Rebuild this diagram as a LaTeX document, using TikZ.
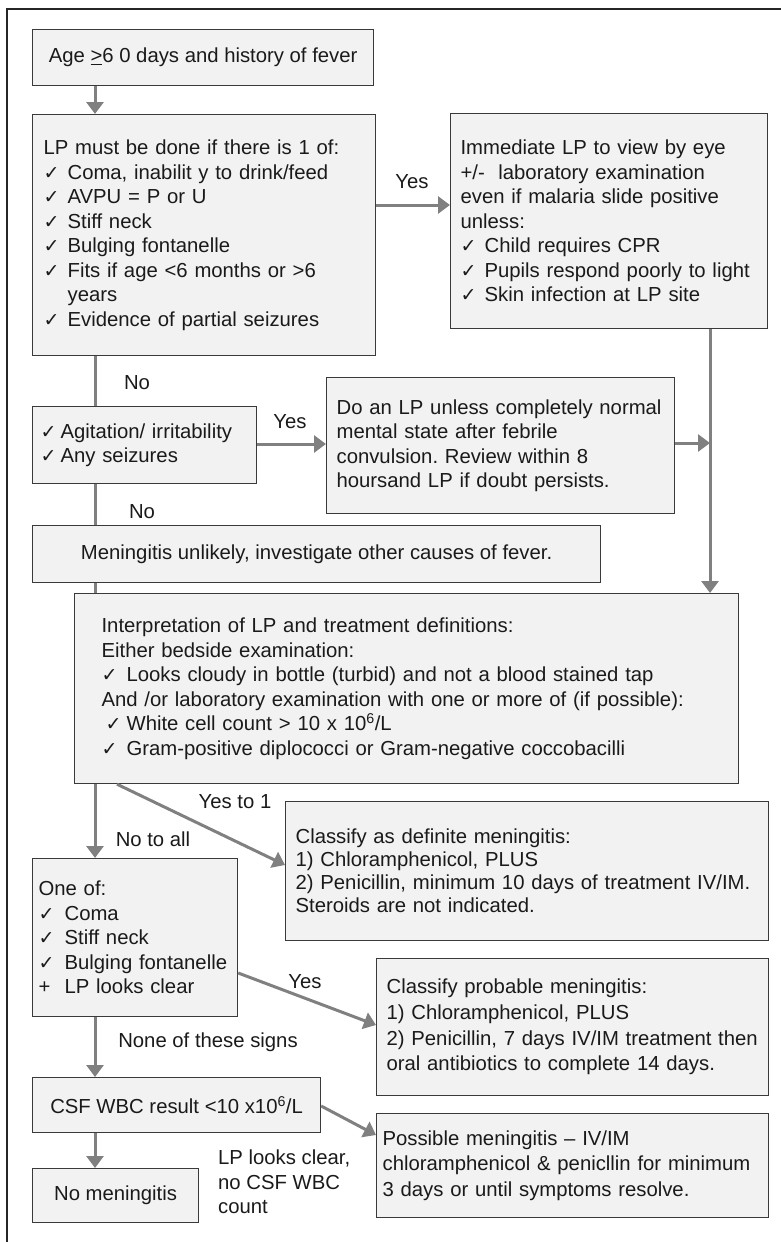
\documentclass[tikz,border=0pt]{standalone}
\usepackage{fontspec}
\setmainfont{Liberation Sans}
\newfontfamily\symfont{DejaVu Sans}
\usetikzlibrary{arrows.meta}

\definecolor{boxfill}{HTML}{F2F2F2}
\definecolor{boxline}{HTML}{3A3A3A}
\definecolor{wire}{HTML}{808080}
\definecolor{ink}{HTML}{1A1A1A}

\frenchspacing
\newcommand\bodyfont{\fontsize{20.3}{24.5}\selectfont}
% check mark followed by a fixed indent
\newcommand\ck[1][24pt]{\makebox[#1][l]{\fontsize{19}{19}\symfont ✓}}

\begin{document}
\begin{tikzpicture}[x=1pt,y=-1pt,
  box/.style={draw=boxline, fill=boxfill, line width=1.2pt, anchor=north west,
    inner ysep=0pt, align=left, font=\bodyfont, text=ink},
  cbox/.style={box, align=center},
  conn/.style={draw=wire, line width=3pt},
  arr/.style={conn, -{Triangle[length=12pt,width=17pt]}},
  lbl/.style={font=\bodyfont, text=ink, inner sep=0pt, align=left}]
\useasboundingbox (0,0) rectangle (781,1242);

% outer frame
\draw[black!85, line width=1.2pt] (781,9) -- (7,9) -- (7,1242);

% boxes
\node[cbox, minimum width=341, minimum height=56] (A) at (32,29)
  {Age \underline{>}6 0 days and history of fever};
\node[box, minimum width=343, minimum height=241, text width=321, inner xsep=11] (B) at (32,114)
  {LP must be done if there is 1 of:\\
   \ck Coma, inabilit y to drink/feed\\
   \ck AVPU = P or U\\
   \ck Stiff neck\\
   \ck Bulging fontanelle\\
   \ck Fits if age <6 months or >6\\
   \hspace*{24pt}years\\
   \ck Evidence of partial seizures};
\node[box, minimum width=317, minimum height=215, text width=297, inner xsep=10] (C) at (450,113)
  {Immediate LP to view by eye\\
   +/-\ \ laboratory examination\\
   even if malaria slide positive\\
   unless:\\
   \ck Child requires CPR\\
   \ck Pupils respond poorly to light\\
   \ck Skin infection at LP site};
\node[box, minimum width=224, minimum height=77, text width=208, inner xsep=8] (D) at (32,406)
  {\ck[20pt]Agitation/ irritability\\
   \ck[20pt]Any seizures};
\node[box, minimum width=348, minimum height=136, text width=328, inner xsep=10] (E) at (326,377)
  {Do an LP unless completely normal\\
   mental state after febrile\\
   convulsion. Review within 8\\
   hoursand LP if doubt persists.};
\node[cbox, minimum width=568, minimum height=57] (G) at (32,525)
  {Meningitis unlikely, investigate other causes of fever.};
\node[box, minimum width=664, minimum height=190, text width=610, inner xsep=27] (F) at (74,593)
  {Interpretation of LP and treatment definitions:\\
   Either bedside examination:\\
   \ck[25pt]Looks cloudy in bottle (turbid) and not a blood stained tap\\
   And /or laboratory examination with one or more of (if possible):\\
   \hspace*{4pt}\ck[21pt]White cell count > 10 x 10\textsuperscript{6}/L\\
   \ck[25pt]Gram-positive diplococci or Gram-negative coccobacilli};
\node[box, minimum width=483, minimum height=139, text width=463, inner xsep=10,
      font=\fontsize{20.3}{23}\selectfont] (I) at (285,801)
  {Classify as definite meningitis:\\
   1) Chloramphenicol, PLUS\\
   2) Penicillin, minimum 10 days of treatment IV/IM.\\
   Steroids are not indicated.};
\node[box, minimum width=205, minimum height=158, text width=193, inner xsep=6] (H) at (32,858)
  {One of:\\
   \ck[26pt]Coma\\
   \ck[26pt]Stiff neck\\
   \ck[26pt]Bulging fontanelle\\
   \makebox[26pt][l]{+}LP looks clear};
\node[box, minimum width=392, minimum height=137, text width=372, inner xsep=10,
      font=\fontsize{20.3}{25.7}\selectfont] (J) at (376,958)
  {Classify probable meningitis:\\
   1) Chloramphenicol, PLUS\\
   2) Penicillin, 7 days IV/IM treatment then\\
   oral antibiotics to complete 14 days.};
\node[cbox, minimum width=288, minimum height=55] (K) at (32,1077)
  {CSF WBC result <10 x10\textsuperscript{6}/L};
\node[box, minimum width=392, minimum height=104, text width=380, inner xsep=6,
      font=\fontsize{20.3}{25.5}\selectfont] (L) at (376,1113)
  {Possible meningitis – IV/IM\\
   chloramphenicol \& penicllin for minimum\\
   3 days or until symptoms resolve.};
\node[cbox, minimum width=166, minimum height=54] (M) at (32,1168)
  {No meningitis};

% reference points for the trunk lines
\coordinate (trunk) at (95,0);
\coordinate (merge) at (710,443);

% connectors
\draw[arr]  (A.south -| trunk) -- (B.north -| trunk);
\draw[arr]  (B.east |- 0,205) -- (C.west |- 0,205);
\draw[conn] (B.south -| trunk) -- (D.north -| trunk);
\draw[arr]  (D.east |- 0,444) -- (E.west |- 0,444);
\draw[conn] (D.south -| trunk) -- (G.north -| trunk);
\draw[conn] (G.south -| trunk) -- (F.north -| trunk);
\draw[arr]  (E.east |- merge) -- (merge);
\draw[arr]  (C.south -| merge) -- (F.north -| merge);
\draw[arr]  (F.south -| trunk) -- (H.north -| trunk);
\draw[arr]  (F.south -| 117,0) -- (I.west |- 0,865);
\draw[arr]  (H.east |- 0,973) -- (J.west |- 0,1025);
\draw[arr]  (H.south -| trunk) -- (K.north -| trunk);
\draw[arr]  (K.east |- 0,1106) -- (L.west |- 0,1135);
\draw[arr]  (K.south -| trunk) -- (M.north -| trunk);

% connector labels
\node[lbl] (l1) at (412,182) {Yes};
\node[lbl] (l2) at (137,383) {No};
\node[lbl] (l3) at (290,422) {Yes};
\node[lbl] (l4) at (142,512) {No};
\node[lbl] (l5) at (235,802) {Yes to 1};
\node[lbl] (l6) at (153,839) {No to all};
\node[lbl] (l7) at (305,982) {Yes};
\node[lbl] (l8) at (208,1042) {None of these signs};
\node[lbl, anchor=west] (l9) at (218,1182) {LP looks clear,\\no CSF WBC\\count};
\end{tikzpicture}
\end{document}
